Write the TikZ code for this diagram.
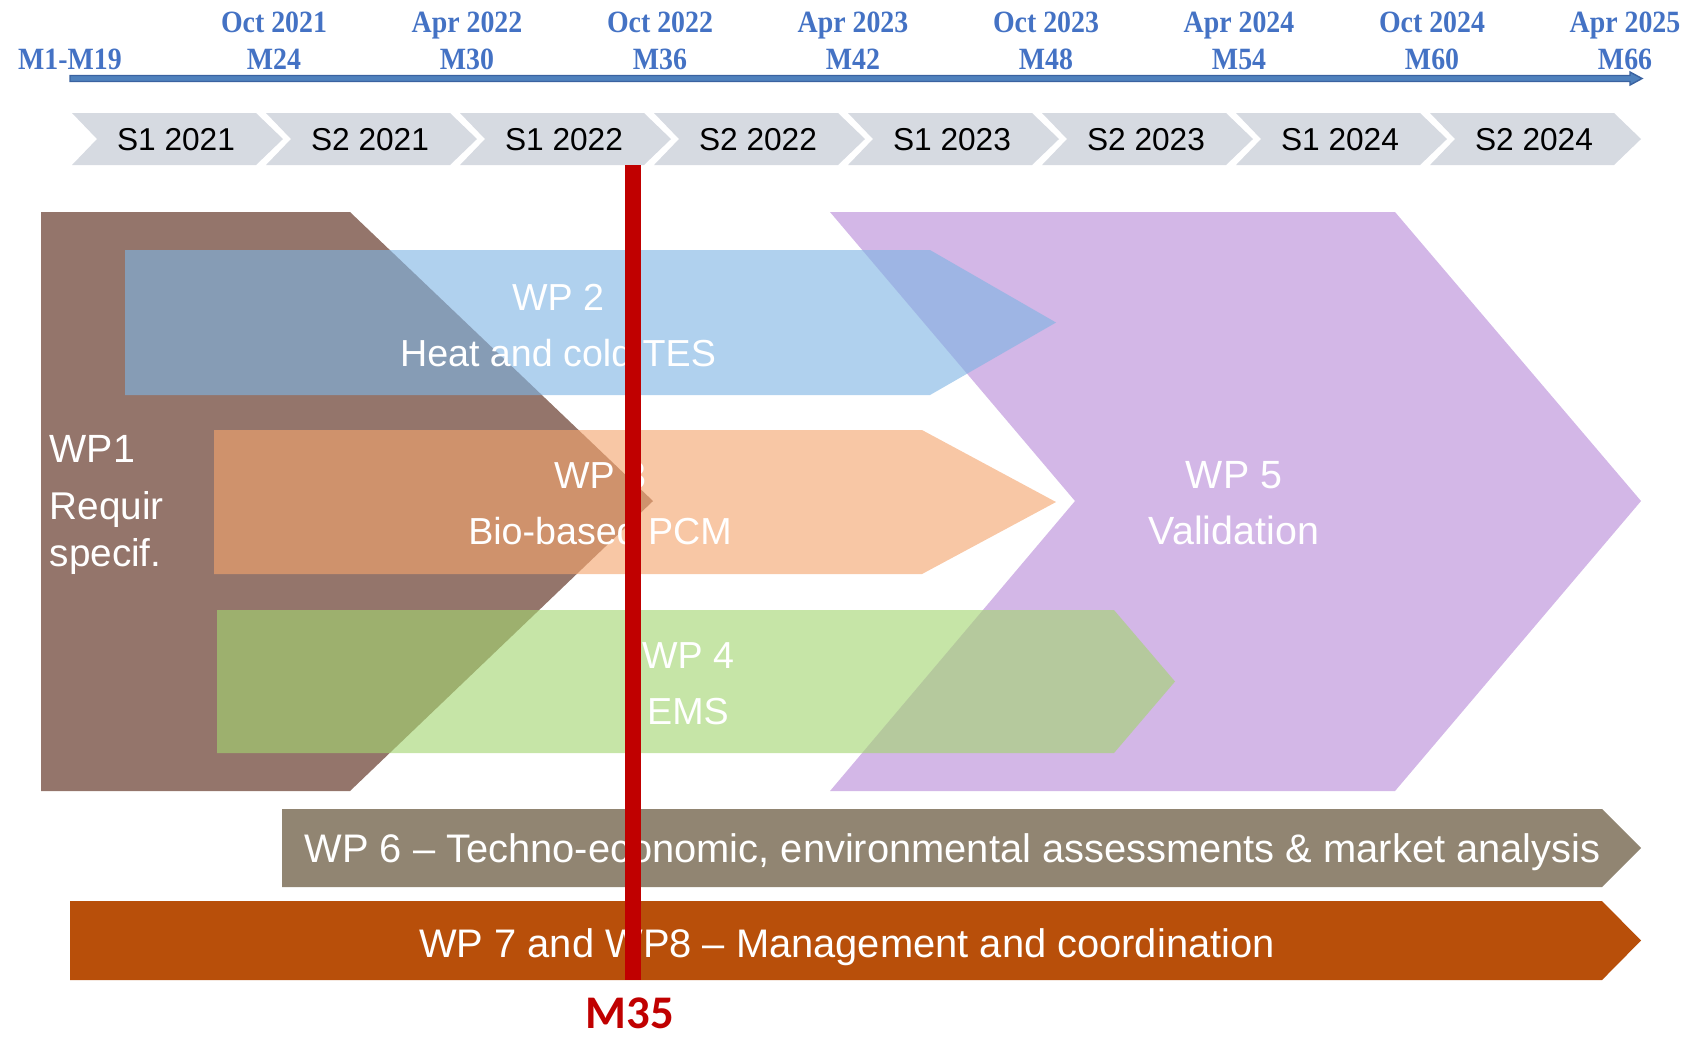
\documentclass[tikz,border=0pt]{standalone}
\usepackage{fontspec}
\setmainfont{Liberation Sans}
\newfontfamily\timesfont{Liberation Serif}
\newfontfamily\calfont{Carlito}
\definecolor{dateblue}{HTML}{4472C4}
\definecolor{axisblue}{HTML}{4F81BD}
\definecolor{axisdark}{HTML}{3A62A0}
\definecolor{semgray}{HTML}{D6DAE1}
\definecolor{wpbrown}{HTML}{94756B}
\definecolor{wppurple}{HTML}{D3B7E7}
\definecolor{wpblue}{RGB}{127,180,227}
\definecolor{wporange}{RGB}{244,165,110}
\definecolor{wpgreen}{RGB}{163,213,113}
\definecolor{wptaupe}{HTML}{918572}
\definecolor{wprust}{HTML}{B84F0A}
\definecolor{milered}{HTML}{C00000}
\newcommand{\narrowdate}[1]{\scalebox{0.9}[1]{#1}}
\begin{document}
\begin{tikzpicture}[x=0.01cm,y=-0.01cm,
  toplab/.style={font=\timesfont\bfseries\fontsize{8.8}{10}\selectfont, text=dateblue, inner sep=0, anchor=base},
  semlab/.style={font=\fontsize{9}{10}\selectfont, inner sep=0, anchor=base},
  wplab/.style={text=white, inner sep=0, anchor=base, font=\fontsize{10.7}{12}\selectfont},
  wpside/.style={text=white, inner sep=0, anchor=base west, font=\fontsize{11}{12}\selectfont},
  barlab/.style={text=white, inner sep=0, anchor=base},
  seeband/.style={fill opacity=0.62}]
\useasboundingbox (0,0) rectangle (1686,1038);

% time axis
\fill[axisblue, draw=axisdark, line width=0.4pt]
  (70,75.5) -- (1630,75.5) -- (1630,72) -- (1642,78.5) -- (1630,85) -- (1630,81.5) -- (70,81.5) -- cycle;
\node[toplab] (m0) at (70,69.5) {\narrowdate{M1-M19}};
\foreach \d/\m [count=\i from 0] in {Oct 2021/M24, Apr 2022/M30, Oct 2022/M36, Apr 2023/M42,
    Oct 2023/M48, Apr 2024/M54, Oct 2024/M60, Apr 2025/M66} {
  \node[toplab] (date\i) at (274+193*\i,32) {\narrowdate{\d}};
  \node[toplab] (month\i) at (274+193*\i,69.5) {\narrowdate{\m}};
}

% semesters
\foreach \s [count=\i from 0] in {S1 2021, S2 2021, S1 2022, S2 2022, S1 2023, S2 2023, S1 2024, S2 2024} {
  \pgfmathsetmacro{\L}{72+194*\i}
  \fill[semgray] (\L,113) -- (\L+184,113) -- (\L+211,139) -- (\L+184,165) -- (\L,165) -- (\L+25,139) -- cycle;
  \node[semlab] (sem\i) at (\L+104,150) {\s};
}

% work packages
\fill[wpbrown] (41,212) -- (350,212) -- (653,501) -- (350,791) -- (41,791) -- cycle;
\fill[wppurple] (830,212) -- (1395,212) -- (1641,501) -- (1395,791) -- (830,791) -- (1075,501) -- cycle;
\fill[wpblue, seeband] (125,250) -- (930,250) -- (1056,322.5) -- (930,395) -- (125,395) -- cycle;
\fill[wporange, seeband] (214,430) -- (922,430) -- (1056,502) -- (922,574) -- (214,574) -- cycle;
\fill[wpgreen, seeband] (217,610) -- (1114,610) -- (1175,681.5) -- (1114,753) -- (217,753) -- cycle;

\node[wpside, font=\fontsize{11.2}{12}\selectfont] (wp1a) at (49,462) {WP1};
\node[wpside] (wp1b) at (49,519) {Requir};
\node[wpside] (wp1c) at (49,566) {specif.};

\node[wplab] (wp2a) at (558,310) {WP 2};
\node[wplab] (wp2b) at (558,366) {Heat and cold TES};
\node[wplab] (wp3a) at (600,488) {WP 3};
\node[wplab] (wp3b) at (600,544) {Bio-based PCM};
\node[wplab] (wp4a) at (688,668) {WP 4};
\node[wplab] (wp4b) at (688,724) {EMS};
\node[wplab, font=\fontsize{11.2}{12}\selectfont] (wp5a) at (1234,488) {WP 5};
\node[wplab, font=\fontsize{11.2}{12}\selectfont] (wp5b) at (1234,544) {Validation};

% cross-cutting work packages
\fill[wptaupe] (282,809) -- (1602,809) -- (1641,848) -- (1602,887) -- (282,887) -- cycle;
\node[barlab, anchor=base west] (wp6) at (304,862)
  {\resizebox{12.95cm}{!}{WP 6 – Techno-economic, environmental assessments \& market analysis}};
\fill[wprust] (70,901) -- (1602,901) -- (1641,940.5) -- (1602,980) -- (70,980) -- cycle;
\node[barlab] (wp7) at (847,957)
  {\resizebox{8.55cm}{!}{WP 7 and WP8 – Management and coordination}};

% milestone
\fill[milered] (625,165) rectangle (641,980);
\node[text=milered, inner sep=0, anchor=base, text depth=0pt,
  font=\calfont\bfseries\fontsize{13.3}{14}\selectfont] (m35) at (630,1028) {M35};
\end{tikzpicture}
\end{document}
